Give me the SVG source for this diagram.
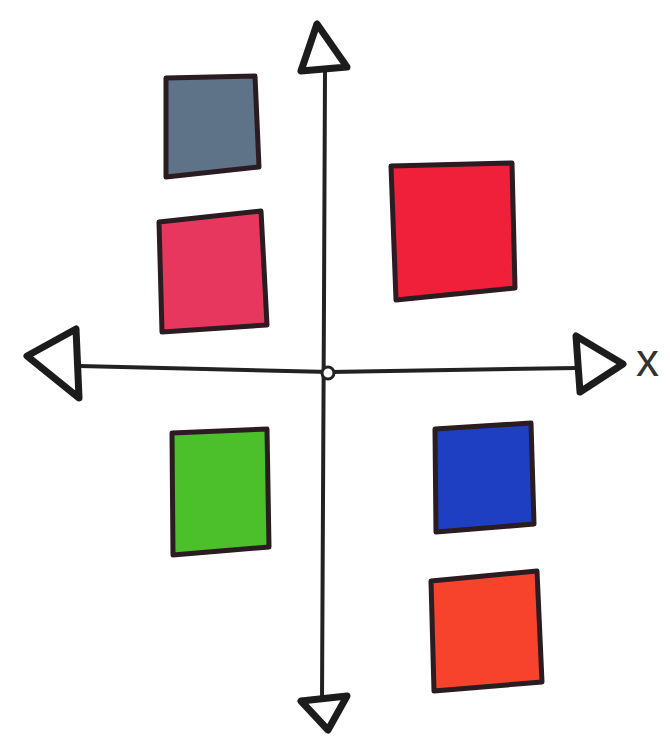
<svg xmlns="http://www.w3.org/2000/svg" width="670" height="736" viewBox="0 0 670 736">
<style>
.sq{stroke:#2a1c20;stroke-width:5;stroke-linejoin:round}
.ax{fill:none;stroke:#222;stroke-width:4;stroke-linecap:round;stroke-linejoin:round}
.tri{fill:#fff;stroke:#1c1c1c;stroke-width:7;stroke-linejoin:round}
.lbl{font-family:"Liberation Sans",Arial,sans-serif;font-size:46px;fill:#333}
</style>
<rect width="670" height="736" fill="#fff"/>
<g id="connectors">
<path class="ax" d="M325 70 L324 300 L322 700"/>
<path class="ax" d="M80 366 L330 372 L577 368"/>
<circle cx="328" cy="373" r="6" fill="#fff" stroke="#222" stroke-width="3"/>
</g>
<g id="arrow-up"><polygon class="tri" points="317,24 301,71 347,67"/></g>
<g id="arrow-left"><polygon class="tri" points="27,356 76,329 79,398"/></g>
<g id="arrow-right"><polygon class="tri" points="576,336 580,392 623,364"/></g>
<g id="arrow-down"><polygon class="tri" points="301,701 347,696 328,730"/></g>
<g id="label-x"><text class="lbl" x="636" y="376">x</text></g>
<g id="sq-gray"><polygon class="sq" fill="#5e7288" points="166,78 255,76 259,167 166,177"/></g>
<g id="sq-pink"><polygon class="sq" fill="#e8375e" points="159,222 261,211 267,325 162,332"/></g>
<g id="sq-red"><polygon class="sq" fill="#f01f3a" points="391,166 512,163 515,288 396,300"/></g>
<g id="sq-green"><polygon class="sq" fill="#4bc02a" points="172,433 267,429 269,547 173,555"/></g>
<g id="sq-blue"><polygon class="sq" fill="#1f3fc2" points="435,429 531,423 534,524 436,532"/></g>
<g id="sq-orange"><polygon class="sq" fill="#f7432c" points="431,581 537,571 542,682 434,691"/></g>
</svg>
